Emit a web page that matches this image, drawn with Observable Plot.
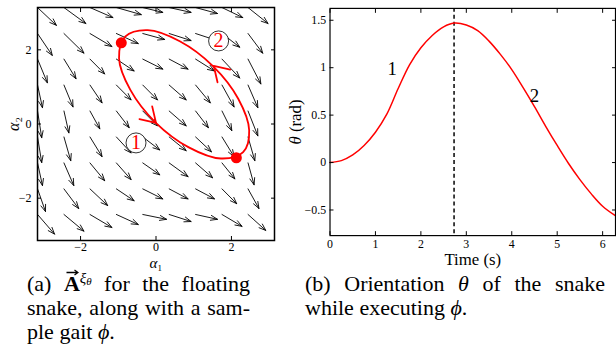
<!DOCTYPE html>
<html><head><meta charset="utf-8">
<script src="https://cdn.jsdelivr.net/npm/d3@7"></script>
<script src="https://cdn.jsdelivr.net/npm/@observablehq/plot@0.6"></script>
<style>
html,body{margin:0;padding:0;background:#fff;overflow:hidden;width:616px;height:360px;}
#wrap{position:relative;width:616px;height:360px;overflow:hidden;font-family:"Liberation Serif","Times New Roman",Times,Tinos,"DejaVu Serif","Noto Serif",serif;color:#000;}
#left{position:absolute;left:0;top:0;}
#right{position:absolute;left:290px;top:0;}
.cap{position:absolute;font-size:22px;line-height:24px;}
.cap .j{text-align:justify;text-align-last:justify;}
.vec{position:relative;display:inline-block;font-weight:bold;}
.vec svg{position:absolute;left:2px;top:-3px;}
sup{font-size:15px;line-height:0;vertical-align:8px;}
sup sub{font-size:11px;vertical-align:-2px;}
</style>
</head><body>
<div id="wrap">
  <div id="left"></div>
  <div id="right"></div>
  <div class="cap" style="left:27px;top:272px;width:223px;">
    <div class="j">(a) <span class="vec">A<svg width="13" height="7" viewBox="0 0 13 7"><path d="M0.5,3.5H12M8.5,1L12,3.5L8.5,6" stroke="black" stroke-width="1.3" fill="none"/></svg></span><sup><i>ξ</i><sub><i>θ</i></sub></sup> for the floating</div>
    <div class="j">snake, along with a sam-</div>
    <div>ple gait <i>ϕ</i>.</div>
  </div>
  <div class="cap" style="left:305px;top:272px;width:300px;">
    <div class="j">(b) Orientation <i>θ</i> of the snake</div>
    <div>while executing <i>ϕ</i>.</div>
  </div>
</div>
<script>
// ---------- left panel data (α1, α2 plane) ----------
const alphaTicks = [-2, 0, 2];
const gridX = [-3.14, -2.44, -1.75, -1.05, -0.35, 0.35, 1.05, 1.75, 2.44];
const gridY = [3.14, 2.44, 1.75, 1.05, 0.35, -0.35, -1.05, -1.75, -2.44];
// vector components (α units), rows follow gridY, columns follow gridX
const U = [
  [0.50, 0.58, 0.61, 0.66, 0.53, 0.58, 0.58, 0.55, 0.53],
  [0.39, 0.53, 0.58, 0.58, 0.58, 0.58, 0.63, 0.47, 0.39],
  [0.26, 0.32, 0.39, 0.47, 0.53, 0.50, 0.50, 0.47, 0.34],
  [0.13, 0.24, 0.32, 0.39, 0.39, 0.45, 0.39, 0.32, 0.26],
  [0.11, 0.13, 0.26, 0.34, 0.39, 0.45, 0.34, 0.26, 0.26],
  [0.11, 0.18, 0.32, 0.39, 0.45, 0.45, 0.42, 0.32, 0.18],
  [0.13, 0.26, 0.39, 0.39, 0.45, 0.50, 0.45, 0.34, 0.16],
  [0.21, 0.39, 0.47, 0.47, 0.53, 0.50, 0.50, 0.39, 0.29],
  [0.45, 0.53, 0.58, 0.58, 0.63, 0.58, 0.58, 0.53, 0.47]
];
const V = [
  [-0.48, -0.43, -0.27, -0.19, -0.13, -0.13, -0.16, -0.27, -0.43],
  [-0.59, -0.53, -0.35, -0.27, -0.16, -0.19, -0.21, -0.37, -0.53],
  [-0.64, -0.53, -0.40, -0.32, -0.27, -0.27, -0.32, -0.51, -0.67],
  [-0.61, -0.59, -0.48, -0.40, -0.40, -0.40, -0.48, -0.59, -0.61],
  [-0.72, -0.59, -0.48, -0.45, -0.40, -0.40, -0.45, -0.53, -0.67],
  [-0.69, -0.64, -0.53, -0.43, -0.35, -0.37, -0.40, -0.53, -0.64],
  [-0.61, -0.61, -0.48, -0.45, -0.32, -0.37, -0.40, -0.43, -0.59],
  [-0.61, -0.53, -0.45, -0.32, -0.27, -0.27, -0.27, -0.40, -0.53],
  [-0.53, -0.45, -0.35, -0.27, -0.13, -0.19, -0.13, -0.32, -0.43]
];
// gait φ (closed loop)
const gaitA1 = [2.31, 2.47, 2.18, 1.51, 0.63, -0.22, -0.81, -0.98, -0.68, -0.01, 0.87, 1.72];
const gaitA2 = [-0.76, -0.17, 0.68, 1.56, 2.23, 2.53, 2.36, 1.77, 0.92, 0.04, -0.63, -0.93];
const dotA1 = [-0.92, 2.13];
const dotA2 = [2.19, -0.91];
const headA1 = [0.0, 1.53];
const headA2 = [0.03, 1.57];
const headDir = [135, 315];
const segLabelA1 = [-0.53, 1.66];
const segLabelA2 = [-0.51, 2.24];
const segNames = ["1", "2"];

// ---------- right panel data ----------
const timeS = [0, 0.25, 0.5, 0.75, 1.0, 1.25, 1.5, 1.75, 2.0, 2.25, 2.5, 2.73, 3.0, 3.25, 3.5, 3.75, 4.0, 4.25, 4.5, 4.75, 5.0, 5.25, 5.5, 5.75, 6.0, 6.28];
const thetaRad = [0, 0.02, 0.08, 0.18, 0.32, 0.51, 0.78, 1.03, 1.21, 1.34, 1.43, 1.47, 1.45, 1.39, 1.28, 1.14, 0.98, 0.79, 0.59, 0.38, 0.18, -0.01, -0.18, -0.33, -0.46, -0.56];
const peakTime = [2.73];
const timeTicks = [0, 1, 2, 3, 4, 5, 6];
const thetaTicks = [-0.5, 0, 0.5, 1, 1.5];
const curveLabelT = [1.37, 4.5];
const curveLabelTheta = [0.99, 0.7];

// ---------- build tables ----------
const field = [];
gridY.forEach((y, i) => gridX.forEach((x, j) => field.push({x, y, u: U[i][j], v: V[i][j]})));
const gait = gaitA1.map((a, i) => ({a1: a, a2: gaitA2[i]}));
const dots = dotA1.map((a, i) => ({a1: a, a2: dotA2[i]}));
const heads = headA1.map((a, i) => ({a1: a, a2: headA2[i], dir: headDir[i]}));
const segLabels = segLabelA1.map((a, i) => ({a1: a, a2: segLabelA2[i], name: segNames[i]}));
const curve = timeS.map((t, i) => ({t, theta: thetaRad[i]}));
const curveLabels = curveLabelT.map((t, i) => ({t, theta: curveLabelTheta[i], name: segNames[i]}));

const fmt = d => (d < 0 ? "\u2212" : "") + Math.abs(d);
const serif = '"Liberation Serif", "Times New Roman", Times, Tinos, "DejaVu Serif", "Noto Serif", serif';
const baseStyle = {fontFamily: serif, fontSize: "12px", color: "black", background: "none", overflow: "visible"};
const wing = {draw(ctx) { ctx.moveTo(-9, 14.4); ctx.lineTo(0, 0); ctx.lineTo(9, 14.4); }};

const left = Plot.plot({
  width: 290, height: 271, marginLeft: 37, marginRight: 16, marginTop: 7, marginBottom: 31,
  x: {domain: [-Math.PI, Math.PI]},
  y: {domain: [-Math.PI, Math.PI]},
  style: baseStyle,
  marks: [
    Plot.arrow(field, {x1: "x", y1: "y", x2: d => d.x + d.u, y2: d => d.y + d.v, stroke: "black", strokeWidth: 0.9, headLength: 12, headAngle: 40, clip: true}),
    Plot.line(gait, {x: "a1", y: "a2", curve: "catmull-rom-closed", stroke: "#ff0000", strokeWidth: 1.8}),
    Plot.vector(heads, {x: "a1", y: "a2", rotate: "dir", anchor: "start", length: 17, stroke: "#ff0000", strokeWidth: 1.8, fill: "none", shape: wing}),
    Plot.dot(dots, {x: "a1", y: "a2", r: 5.5, fill: "#ff0000", stroke: "none"}),
    Plot.dot(segLabels, {x: "a1", y: "a2", r: 10, fill: "white", stroke: "black", strokeWidth: 0.8}),
    Plot.text(segLabels, {x: "a1", y: "a2", text: "name", fill: "#ff0000", fontSize: 20}),
    Plot.frame({stroke: "black", strokeWidth: 1.5}),
    Plot.axisX(alphaTicks, {anchor: "bottom", tickSize: 0, tickPadding: 2, tickFormat: fmt, label: null}),
    Plot.axisY(alphaTicks, {anchor: "left", tickSize: 0, tickPadding: 6, tickFormat: fmt, label: null}),
    Plot.axisX(alphaTicks, {anchor: "bottom", tickSize: -4, fill: "none", label: null}),
    Plot.axisX(alphaTicks, {anchor: "top", tickSize: -4, fill: "none", label: null}),
    Plot.axisY(alphaTicks, {anchor: "left", tickSize: -4, fill: "none", label: null}),
    Plot.axisY(alphaTicks, {anchor: "right", tickSize: -4, fill: "none", label: null}),
    Plot.text(["α₁"], {text: d => d, frameAnchor: "bottom", dy: 23, lineAnchor: "middle", textAnchor: "middle", fontSize: 15}),
    Plot.text(["α₂"], {text: d => d, frameAnchor: "left", dx: -24, lineAnchor: "middle", textAnchor: "middle", rotate: -90, fontSize: 16})
  ]
});
document.getElementById("left").appendChild(left);

const right = Plot.plot({
  width: 330, height: 270, marginLeft: 40, marginRight: 1, marginTop: 8, marginBottom: 32,
  x: {domain: [0, 6.2832]},
  y: {domain: [-0.77, 1.625]},
  style: baseStyle,
  marks: [
    Plot.ruleX(peakTime, {stroke: "black", strokeWidth: 1.5, strokeDasharray: "4,3"}),
    Plot.line(curve, {x: "t", y: "theta", curve: "catmull-rom", stroke: "#ff0000", strokeWidth: 1.5}),
    Plot.text(curveLabels, {x: "t", y: "theta", text: "name", fontSize: 19}),
    Plot.frame({stroke: "black", strokeWidth: 1.2}),
    Plot.axisX(timeTicks, {anchor: "bottom", tickSize: 0, tickPadding: 4, tickFormat: fmt, label: null}),
    Plot.axisY(thetaTicks, {anchor: "left", tickSize: 0, tickPadding: 4, tickFormat: fmt, label: null}),
    Plot.axisX(timeTicks, {anchor: "bottom", tickSize: -4, fill: "none", label: null}),
    Plot.axisX(timeTicks, {anchor: "top", tickSize: -4, fill: "none", label: null}),
    Plot.axisY(thetaTicks, {anchor: "left", tickSize: -4, fill: "none", label: null}),
    Plot.axisY(thetaTicks, {anchor: "right", tickSize: -4, fill: "none", label: null}),
    Plot.text(["Time (s)"], {text: d => d, frameAnchor: "bottom", dy: 24, lineAnchor: "middle", textAnchor: "middle", fontSize: 17}),
    Plot.text(["θ (rad)"], {text: d => d, frameAnchor: "left", dx: -35, lineAnchor: "middle", textAnchor: "middle", rotate: -90, fontSize: 17})
  ]
});
document.getElementById("right").appendChild(right);

// italicise Greek symbols in axis labels
d3.selectAll("svg text").each(function() {
  const t = this.textContent;
  if (t === "α₁" || t === "α₂" || t === "θ (rad)") {
    const sel = d3.select(this);
    sel.text(null);
    sel.append("tspan").attr("font-style", "italic").text(t[0]);
    sel.append("tspan").text(t.slice(1));
  }
});
</script>
</body></html>
